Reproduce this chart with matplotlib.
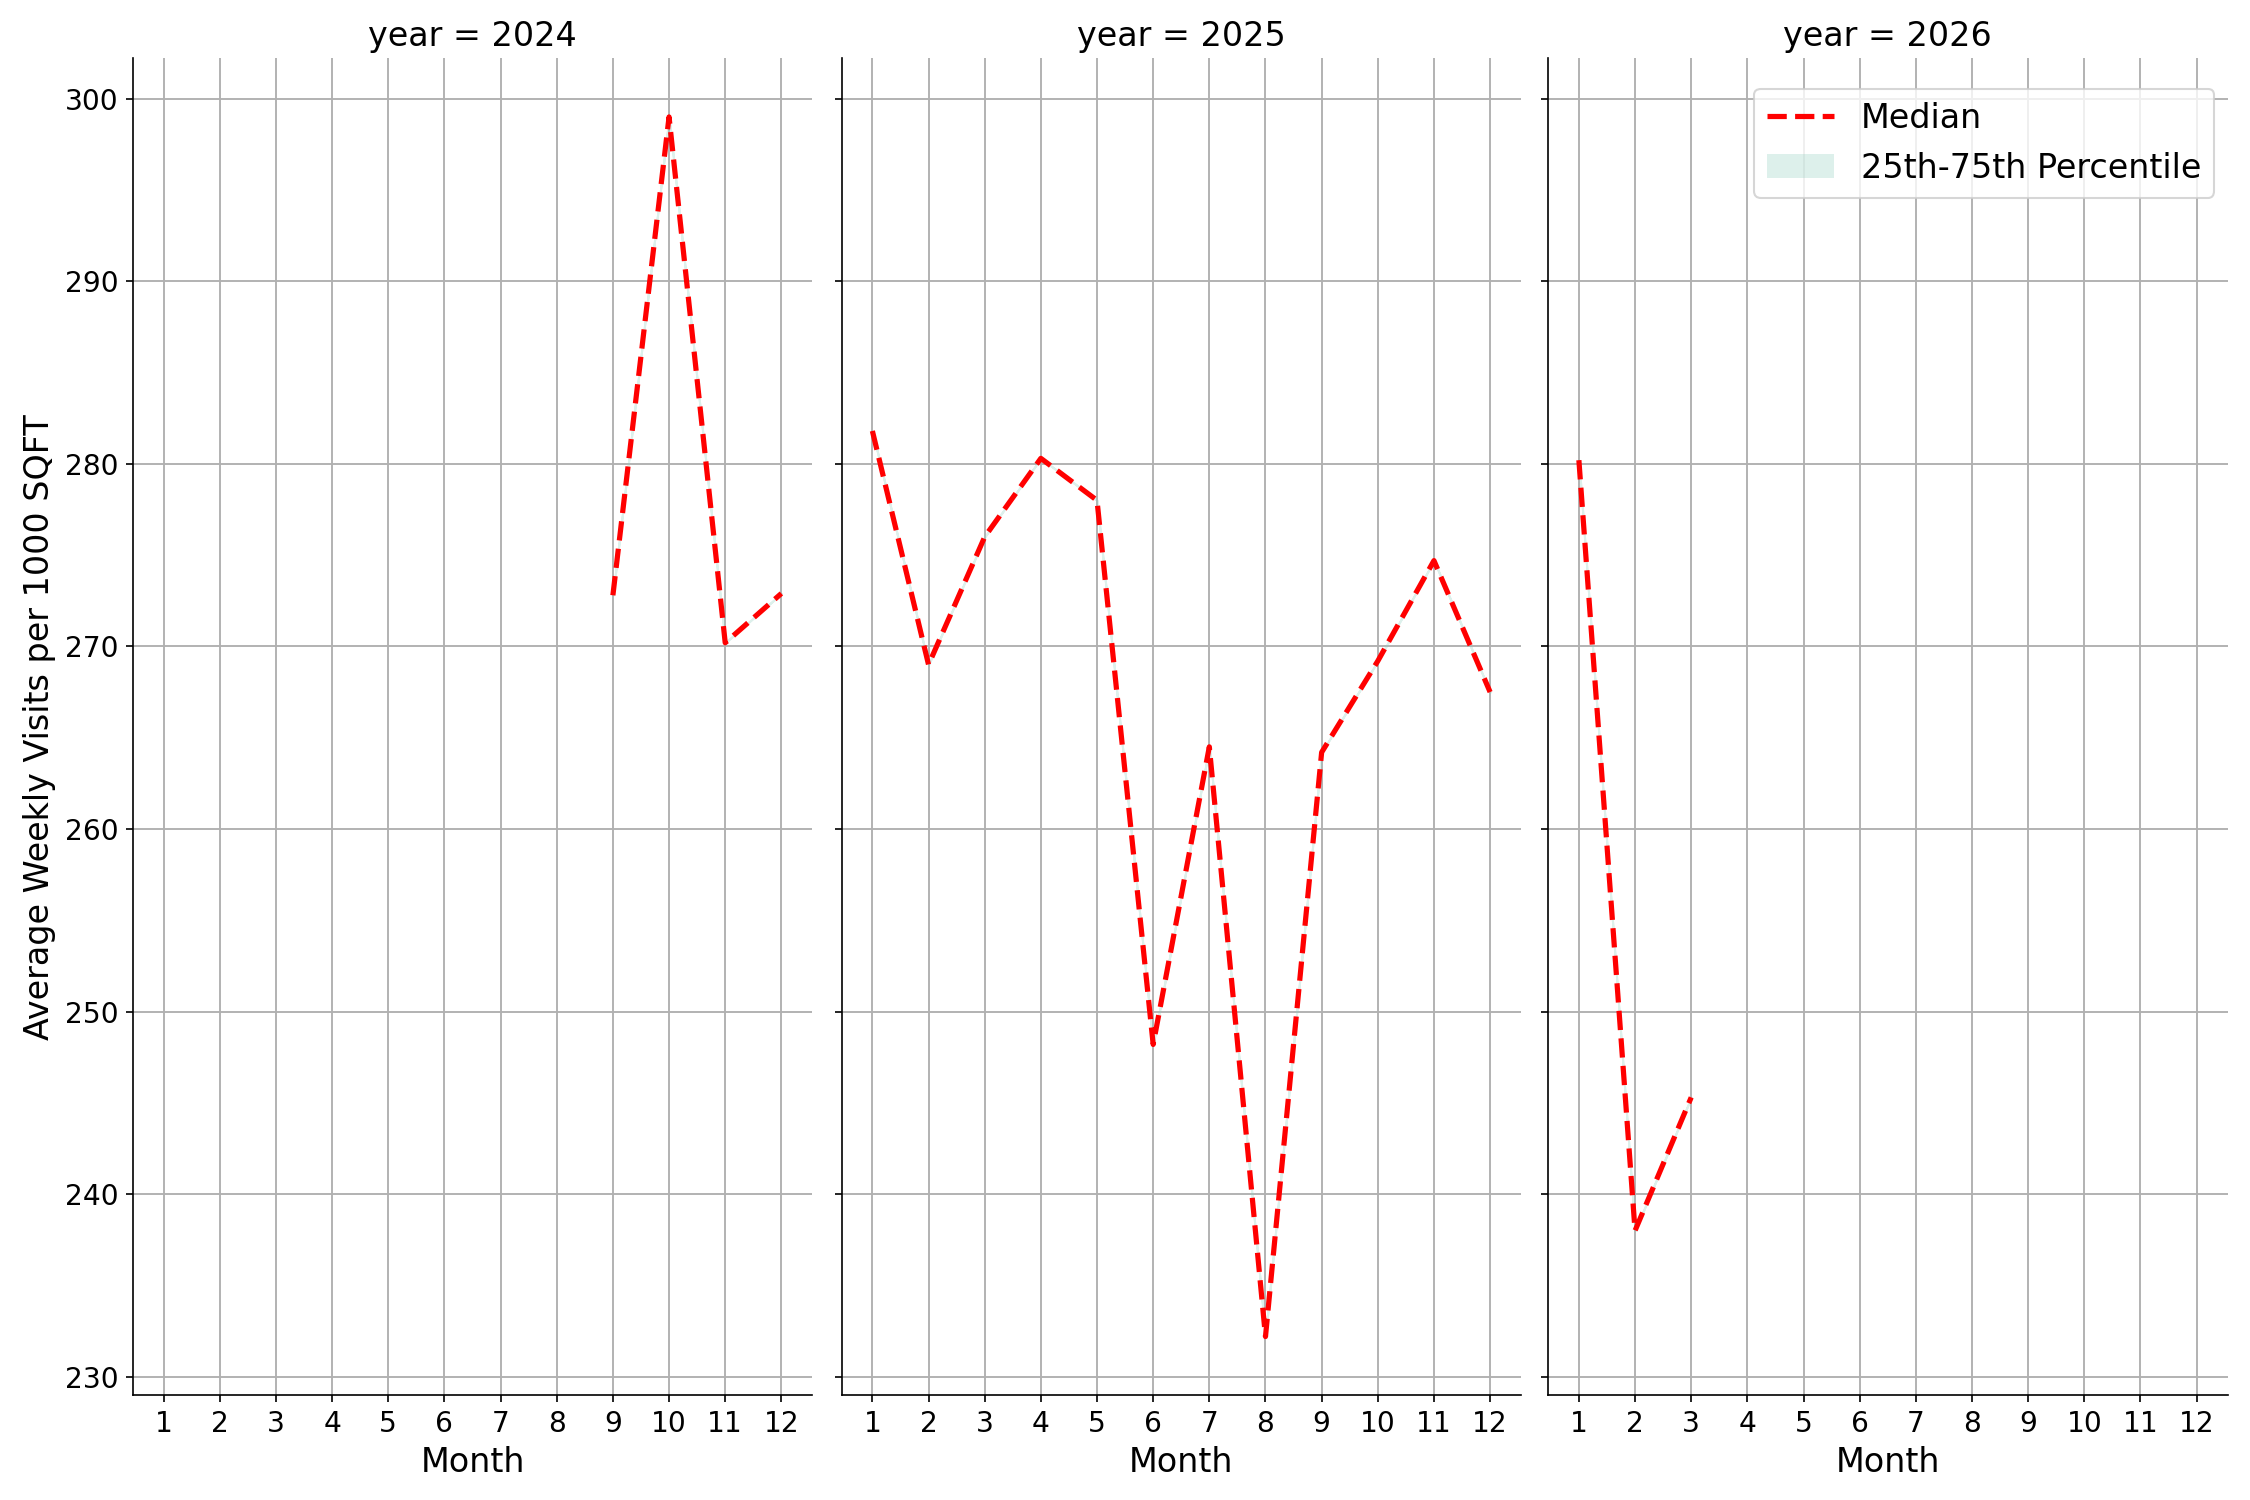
import matplotlib
matplotlib.use("Agg")
import matplotlib.pyplot as plt
from matplotlib.patches import Patch
from matplotlib.lines import Line2D

# --------------------------------------------------
# Data
# --------------------------------------------------
years = [2024, 2025, 2026]
months_2024 = [9, 10, 11, 12]
median_2024 = [272.8, 299.0, 270.2, 272.9]
months_2025 = [1, 2, 3, 4, 5, 6, 7, 8, 9, 10, 11, 12]
median_2025 = [281.8, 269.0, 276.0, 280.3, 278.0, 248.2, 264.5, 232.2,
               264.2, 269.2, 274.7, 267.5]
months_2026 = [1, 2, 3]
median_2026 = [280.2, 238.0, 245.3]

series = {
    2024: (months_2024, median_2024),
    2025: (months_2025, median_2025),
    2026: (months_2026, median_2026),
}
month_ticks = list(range(1, 13))
y_ticks = [230, 240, 250, 260, 270, 280, 290, 300]

# --------------------------------------------------
# Plot
# --------------------------------------------------
fig = plt.figure(figsize=(15, 10), dpi=150)
lefts = [0.059, 0.374, 0.688]
width = 0.302
bottom, top = 0.070, 0.961
axes = []
for i, yr in enumerate(years):
    ax = fig.add_axes([lefts[i], bottom, width, top - bottom],
                      sharey=axes[0] if axes else None)
    axes.append(ax)
    xs, ys = series[yr]
    # band collapses to the median (no spread in data)
    ax.fill_between(xs, ys, ys, color="#8fd0c0", alpha=0.3)
    ax.plot(xs, ys, color="red", linestyle="--", linewidth=2.5)
    ax.set_xlim(0.45, 12.55)
    ax.set_ylim(229.0, 302.2)
    ax.set_xticks(month_ticks)
    ax.set_yticks(y_ticks)
    ax.grid(True, color="#b0b0b0", linewidth=0.9)
    ax.set_axisbelow(True)
    ax.spines["top"].set_visible(False)
    ax.spines["right"].set_visible(False)
    ax.tick_params(labelsize=13.5)
    ax.set_xlabel("Month", fontsize=16)
    ax.set_title(f"year = {yr}", fontsize=16)
    if i > 0:
        ax.tick_params(labelleft=False)

axes[0].set_ylabel("Average Weekly Visits per 1000 SQFT", fontsize=16)

handles = [
    Line2D([], [], color="red", linestyle="--", linewidth=2.5),
    Patch(facecolor="#8fd0c0", alpha=0.3),
]
axes[2].legend(handles, ["Median", "25th-75th Percentile"], fontsize=16,
               loc="upper right", bbox_to_anchor=(1.005, 0.99))

fig.savefig("out.png", dpi=150)
